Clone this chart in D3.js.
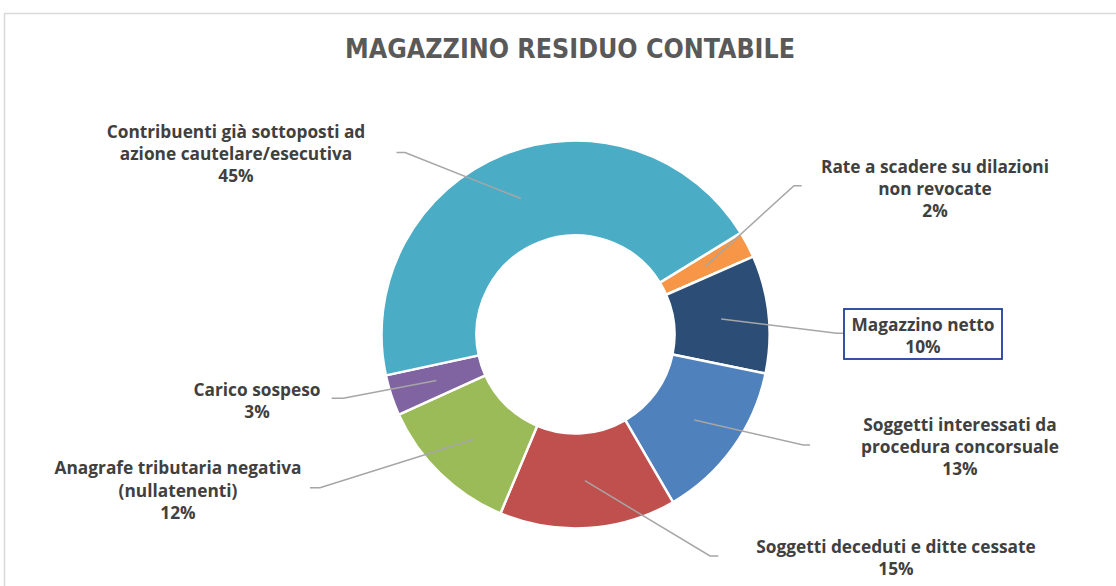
<!DOCTYPE html>
<html>
<head>
<meta charset="utf-8">
<script src="https://cdn.jsdelivr.net/npm/d3@7"></script>
<style>
	html, body { margin: 0; padding: 0; background: #ffffff; }
	svg { display: block; }
	.lbl { font-family: "Open Sans", Lato, sans-serif; font-weight: 700; fill: #404040; }
</style>
</head>
<body>
<svg id="chart" width="1116" height="586"></svg>
<script>
// data (clockwise, starting from the orange slice)
const categories = [
	'Rate a scadere su dilazioni non revocate',
	'Magazzino netto',
	'Soggetti interessati da procedura concorsuale',
	'Soggetti deceduti e ditte cessate',
	'Anagrafe tributaria negativa (nullatenenti)',
	'Carico sospeso',
	'Contribuenti già sottoposti ad azione cautelare/esecutiva'
];
const values = [2.2, 9.8, 13.4, 14.7, 11.9, 3.4, 44.6];
const labelLines = [
	['Rate a scadere su dilazioni', 'non revocate'],
	['Magazzino netto'],
	['Soggetti interessati da', 'procedura concorsuale'],
	['Soggetti deceduti e ditte cessate'],
	['Anagrafe tributaria negativa', '(nullatenenti)'],
	['Carico sospeso'],
	['Contribuenti già sottoposti ad', 'azione cautelare/esecutiva']
];
const colors = ['#F79646', '#2C4D75', '#4F81BD', '#C0504D', '#9BBB59', '#8064A2', '#4BACC6'];
const title = 'MAGAZZINO RESIDUO CONTABILE';

// label placement: text centre x, first line y, leader elbow and end
const labelPos = [
	{x: 935, y: 166, ex: 794, ey: 185.7, lx: 801.7},
	{x: 923, y: 324.3, ex: 836.7, ey: 333.3, lx: 844, box: [844, 309, 158, 50]},
	{x: 960, y: 424.3, ex: 803.3, ey: 445, lx: 810},
	{x: 896, y: 546, ex: 710, ey: 556, lx: 718.3},
	{x: 178, y: 467.7, ex: 320, ey: 487.7, lx: 310},
	{x: 257, y: 389.3, ex: 343.3, ey: 398.3, lx: 331.7},
	{x: 236, y: 131, ex: 405, ey: 152.5, lx: 396.5}
];

const width = 1116, height = 586;
const cx = 575.5, cy = 334.5;
const outerR = 194, innerR = 99;
const lineH = 22.3;
const startDeg = 58.4;

const svg = d3.select('#chart');

// chart area border
svg.append('rect')
	.attr('x', 4.5).attr('y', 13.5)
	.attr('width', width + 20).attr('height', height + 20)
	.attr('fill', 'none')
	.attr('stroke', '#d9d9d9')
	.attr('stroke-width', 1.5);

svg.append('text')
	.attr('x', 570).attr('y', 48)
	.attr('text-anchor', 'middle')
	.attr('dominant-baseline', 'central')
	.attr('textLength', 450)
	.attr('lengthAdjust', 'spacingAndGlyphs')
	.style('font-family', '"Liberation Sans Narrow", "DejaVu Sans Condensed", sans-serif')
	.style('font-weight', 700)
	.style('font-size', '27px')
	.style('fill', '#595959')
	.text(title);

const total = d3.sum(values);
const start = startDeg * Math.PI / 180;
const pie = d3.pie().sort(null).value(d => d)
	.startAngle(start).endAngle(start + 2 * Math.PI);
const arcs = pie(values);
const arc = d3.arc().innerRadius(innerR).outerRadius(outerR);

const g = svg.append('g').attr('transform', `translate(${cx},${cy})`);

g.selectAll('path.slice')
	.data(arcs)
	.enter()
	.append('path')
	.attr('class', 'slice')
	.attr('d', arc)
	.attr('fill', (d, i) => colors[i])
	.attr('stroke', '#ffffff')
	.attr('stroke-width', 2.5);

// leader lines, from slice centroid to the label
const leaders = svg.append('g');
arcs.forEach((d, i) => {
	const c = arc.centroid(d);
	const p = labelPos[i];
	leaders.append('polyline')
		.attr('points', `${cx + c[0]},${cy + c[1]} ${p.ex},${p.ey} ${p.lx},${p.ey}`)
		.attr('fill', 'none')
		.attr('stroke', '#a6a6a6')
		.attr('stroke-width', 1.5);
});

// labels
const labels = svg.append('g');
arcs.forEach((d, i) => {
	const p = labelPos[i];
	if (p.box) {
		labels.append('rect')
			.attr('x', p.box[0]).attr('y', p.box[1])
			.attr('width', p.box[2]).attr('height', p.box[3])
			.attr('fill', '#ffffff')
			.attr('stroke', '#1F3F99')
			.attr('stroke-width', 1.8);
	}
	const lines = labelLines[i].concat([Math.round(values[i] / total * 100) + '%']);
	const t = labels.append('text')
		.attr('class', 'lbl')
		.attr('text-anchor', 'middle')
		.style('font-size', '17.3px');
	lines.forEach((s, k) => {
		t.append('tspan')
			.attr('x', p.x)
			.attr('y', p.y + k * lineH)
			.attr('dominant-baseline', 'central')
			.text(s);
	});
});
</script>
</body>
</html>
